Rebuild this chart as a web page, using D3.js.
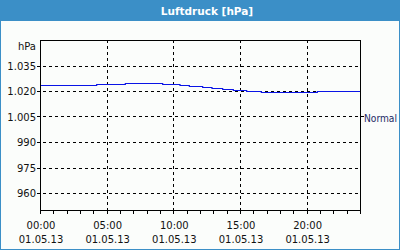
<!DOCTYPE html>
<html>
<head>
<meta charset="utf-8">
<script src="https://cdn.jsdelivr.net/npm/d3@7"></script>
<style>
  html, body { margin: 0; padding: 0; background: #fbfdfb; }
  svg { display: block; }
  text { font-family: "DejaVu Sans", sans-serif; }
</style>
</head>
<body>
<div id="chart"></div>
<script>
// Luftdruck-Verlauf, Stunden seit 00:00 und Wert in hPa
const stunden = [0, 4.25, 6.4, 9.2, 10.5, 11.2, 12.2, 12.9, 13.7, 14.5, 15.5, 16.6, 20.8, 24];
const druck = [1023.7, 1024.3, 1024.6, 1024.1, 1023.5, 1022.8, 1022.2, 1021.6, 1021.0, 1020.4, 1019.8, 1019.2, 1020.0, 1020.0];
const yTicks = [960, 975, 990, 1005, 1020, 1035];
const xTicks = [0, 5, 10, 15, 20];
const xLabels = ["00:00", "05:00", "10:00", "15:00", "20:00"];
const datum = "01.05.13";
const titel = "Luftdruck [hPa]";

const width = 400;
const height = 250;
const plot = { left: 40, right: 360, top: 40, bottom: 210 };
const blau = "#3b8fc7";

const svg = d3.select("#chart")
    .append("svg")
    .attr("width", width)
    .attr("height", height);

svg.append("rect")
    .attr("width", width).attr("height", height)
    .attr("fill", "#fbfdfb");

// Rahmen und Titelleiste
svg.append("rect")
    .attr("x", 0.5).attr("y", 0.5)
    .attr("width", width - 1).attr("height", height - 1)
    .attr("fill", "none")
    .attr("stroke", blau)
    .attr("stroke-width", 1);
svg.append("rect")
    .attr("x", 0).attr("y", 0)
    .attr("width", width).attr("height", 21)
    .attr("fill", blau);
svg.append("text")
    .attr("x", 207).attr("y", 14.5)
    .attr("text-anchor", "middle")
    .attr("fill", "#ffffff")
    .style("font-weight", "bold")
    .style("font-size", "10.5px")
    .text(titel);

const x = d3.scaleLinear().domain([0, 24]).range([plot.left, plot.right]);
const y = d3.scaleLinear().domain([950, 1050]).range([plot.bottom, plot.top]);

const fmt = v => d3.format(",")(v).replace(",", ".");

// Gitterlinien
const grid = svg.append("g")
    .attr("stroke", "#000")
    .attr("stroke-width", 1)
    .attr("stroke-dasharray", "3,3")
    .attr("shape-rendering", "crispEdges");
grid.selectAll("line.h")
    .data(yTicks)
    .enter()
    .append("line")
    .attr("x1", plot.left - 3).attr("x2", plot.right)
    .attr("y1", d => Math.round(y(d)) + 0.5)
    .attr("y2", d => Math.round(y(d)) + 0.5);
grid.selectAll("line.v")
    .data(xTicks.slice(1))
    .enter()
    .append("line")
    .attr("y1", plot.top).attr("y2", plot.bottom)
    .attr("x1", d => Math.round(x(d)) + 0.5)
    .attr("x2", d => Math.round(x(d)) + 0.5);

// Datenlinie
const linie = d3.line()
    .x((d, i) => x(stunden[i]))
    .y(d => Math.round(y(d)) + 0.5)
    .curve(d3.curveStepAfter);
svg.append("path")
    .attr("d", linie(druck))
    .attr("fill", "none")
    .attr("stroke", "#0a14e6")
    .attr("stroke-width", 1.2);

// Achsenrahmen
svg.append("rect")
    .attr("x", plot.left + 0.5).attr("y", plot.top + 0.5)
    .attr("width", plot.right - plot.left).attr("height", plot.bottom - plot.top)
    .attr("fill", "none")
    .attr("stroke", "#000")
    .attr("shape-rendering", "crispEdges");

// kleine Stundenstriche unten
svg.append("g")
    .attr("transform", `translate(0,${plot.bottom + 0.5})`)
    .call(d3.axisBottom(x).ticks(24).tickSize(3).tickFormat(""))
    .call(g => g.select(".domain").remove())
    .call(g => g.selectAll("line").attr("shape-rendering", "crispEdges"));

// Achsenbeschriftung y
const yl = svg.append("g")
    .style("font-size", "10px")
    .attr("fill", "#111");
yl.selectAll("text")
    .data(yTicks)
    .enter()
    .append("text")
    .attr("x", 36)
    .attr("y", d => y(d) + 4)
    .attr("text-anchor", "end")
    .text(d => fmt(d));
yl.append("text")
    .attr("x", 36).attr("y", 50)
    .attr("text-anchor", "end")
    .text("hPa");

// Achsenbeschriftung x
const xl = svg.append("g")
    .style("font-size", "10px")
    .attr("fill", "#111");
xl.selectAll("text.zeit")
    .data(xTicks)
    .enter()
    .append("text")
    .attr("x", d => x(d) + 1)
    .attr("y", 229)
    .attr("text-anchor", "middle")
    .text((d, i) => xLabels[i]);
xl.selectAll("text.datum")
    .data(xTicks)
    .enter()
    .append("text")
    .attr("x", d => x(d) + 1)
    .attr("y", 243)
    .attr("text-anchor", "middle")
    .text(datum);

// rechte Markierung "Normal"
svg.append("line")
    .attr("x1", plot.right).attr("x2", plot.right + 4)
    .attr("y1", Math.round(y(1005)) + 0.5)
    .attr("y2", Math.round(y(1005)) + 0.5)
    .attr("stroke", "#000")
    .attr("shape-rendering", "crispEdges");
svg.append("text")
    .attr("x", 364).attr("y", y(1005) + 5)
    .style("font-size", "10px")
    .attr("textLength", 33)
    .attr("lengthAdjust", "spacingAndGlyphs")
    .attr("fill", "#1c2a66")
    .text("Normal");
</script>
</body>
</html>
